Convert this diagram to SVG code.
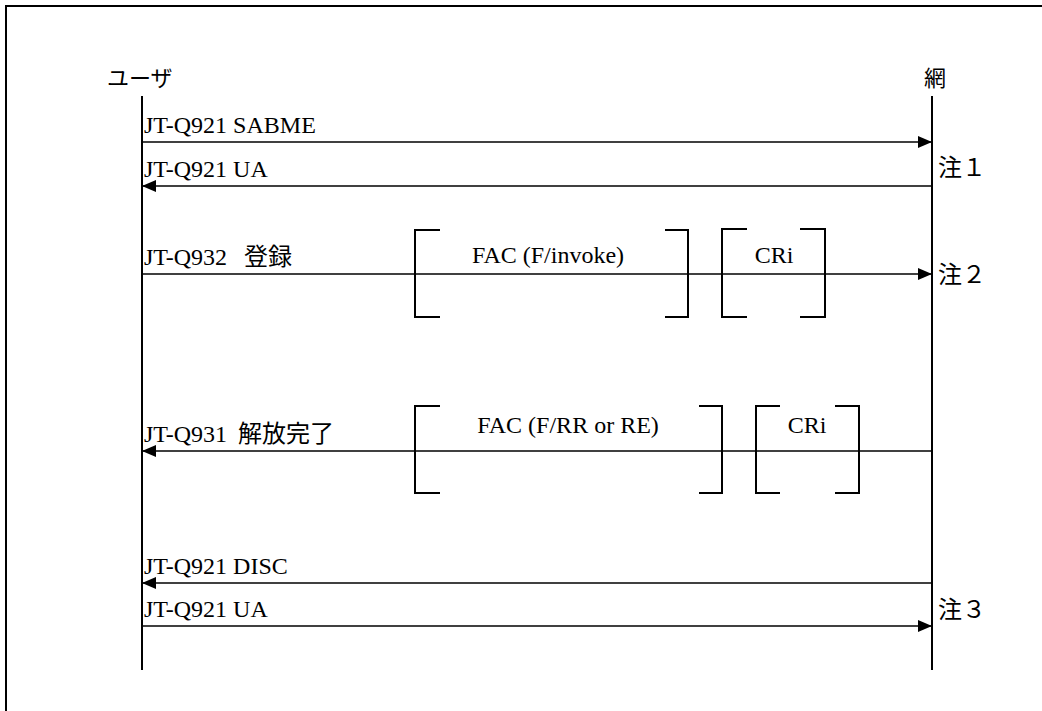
<svg xmlns="http://www.w3.org/2000/svg" width="1042" height="711" viewBox="0 0 1042 711">
<style>
text{font-family:"Liberation Serif","Noto Sans CJK JP",serif;font-size:24px;fill:#000}
.jp{font-size:22px}
.life{stroke:#000;stroke-width:2;fill:none}
.msg{stroke:#000;stroke-width:1.7;fill:none}
.br{stroke:#000;stroke-width:2;fill:none}
</style>
<defs>
<marker id="ah" viewBox="0 0 14 12" refX="14" refY="6" markerWidth="14" markerHeight="12" markerUnits="userSpaceOnUse" orient="auto">
<path d="M0,0 L14,6 L0,12 Z" fill="#000"/>
</marker>
</defs>
<rect x="0" y="0" width="1042" height="711" fill="#fff"/>
<path d="M6,711 V6 H1042" stroke="#000" stroke-width="2" fill="none"/>
<g id="user">
<text x="107" y="86" class="jp">ユーザ</text>
<line class="life" x1="142" y1="96" x2="142" y2="670"/>
</g>
<g id="network">
<text x="924" y="86" class="jp">網</text>
<line class="life" x1="932" y1="96" x2="932" y2="670"/>
</g>
<g id="connectors">
<line class="msg" x1="142" y1="142" x2="932" y2="142" marker-end="url(#ah)"/>
<line class="msg" x1="932" y1="186" x2="142" y2="186" marker-end="url(#ah)"/>
<line class="msg" x1="142" y1="274" x2="932" y2="274" marker-end="url(#ah)"/>
<line class="msg" x1="932" y1="451" x2="142" y2="451" marker-end="url(#ah)"/>
<line class="msg" x1="932" y1="583" x2="142" y2="583" marker-end="url(#ah)"/>
<line class="msg" x1="142" y1="626" x2="932" y2="626" marker-end="url(#ah)"/>
</g>
<g id="labels">
<text x="144" y="133">JT-Q921 SABME</text>
<text x="144" y="177">JT-Q921 UA</text>
<text x="144" y="265">JT-Q932<tspan x="244">登録</tspan></text>
<text x="144" y="442">JT-Q931<tspan x="238">解放完了</tspan></text>
<text x="144" y="574">JT-Q921 DISC</text>
<text x="144" y="617">JT-Q921 UA</text>
<text x="938" y="176">注１</text>
<text x="938" y="283">注２</text>
<text x="938" y="618">注３</text>
</g>
<g id="fac-invoke">
<path class="br" d="M440,230 H415 V317 H440 M665,230 H688 V317 H665"/>
<text x="548" y="263" text-anchor="middle">FAC (F/invoke)</text>
</g>
<g id="cri-1">
<path class="br" d="M747,229 H722 V317 H747 M800,229 H825 V317 H800"/>
<text x="774" y="263" text-anchor="middle">CRi</text>
</g>
<g id="fac-rr">
<path class="br" d="M440,406 H415 V493 H440 M699,406 H722 V493 H699"/>
<text x="568" y="433" text-anchor="middle">FAC (F/RR or RE)</text>
</g>
<g id="cri-2">
<path class="br" d="M780,406 H756 V493 H780 M835,406 H859 V493 H835"/>
<text x="807" y="433" text-anchor="middle">CRi</text>
</g>
</svg>
